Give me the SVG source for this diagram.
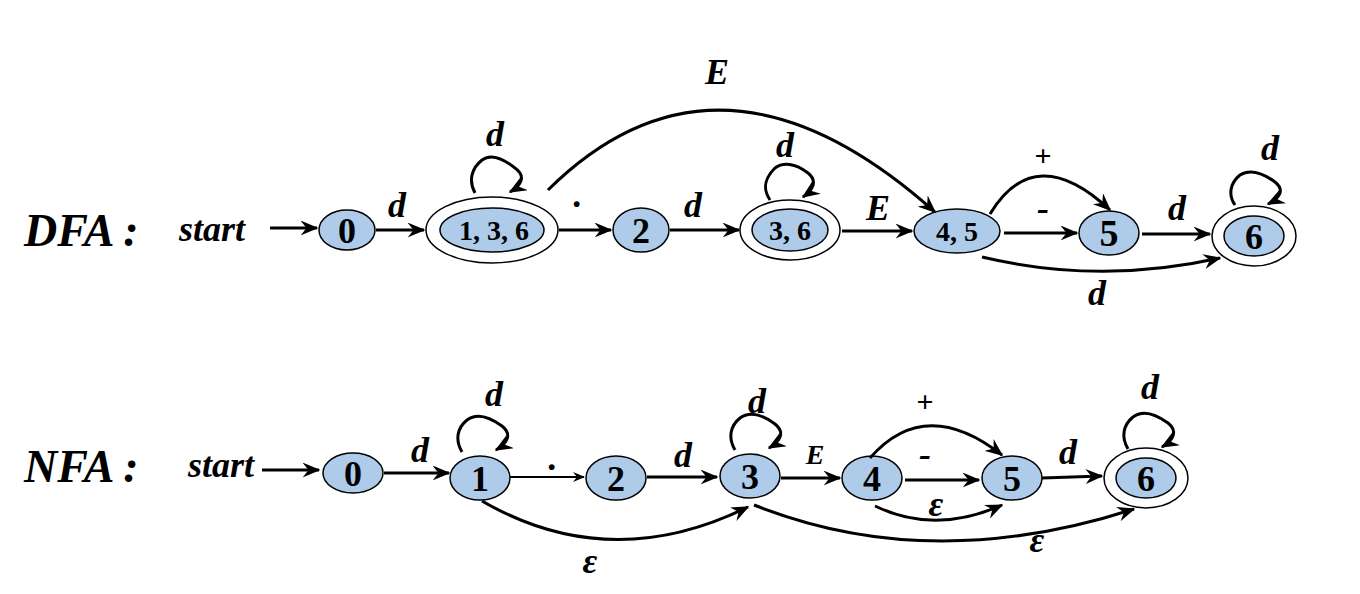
<svg xmlns="http://www.w3.org/2000/svg" width="1360" height="594" viewBox="0 0 1360 594">
<style>
.n{fill:#aecbea;stroke:#000;stroke-width:1.5}
.o{fill:#fff;stroke:#000;stroke-width:1.5}
.e{fill:none;stroke:#000;stroke-width:3;marker-end:url(#ah)}
.t{font-family:"Liberation Serif",serif;font-weight:bold;text-anchor:middle}
.l{font-family:"Liberation Serif",serif;font-weight:bold;font-style:italic;text-anchor:middle;font-size:36px}
.h{font-family:"Liberation Serif",serif;font-weight:bold;font-style:italic;font-size:46px}
</style>
<defs><marker id="ah" viewBox="0 0 12 10" refX="11" refY="5" markerWidth="6" markerHeight="5" markerUnits="strokeWidth" orient="auto"><path d="M0,0 L12,5 L0,10 L4,5 z"/></marker></defs>
<rect width="1360" height="594" fill="#fff"/>
<text class="h" x="24" y="246">DFA :</text>
<text class="l" x="212" y="241" style="font-size:36px">start</text>
<text class="h" x="24" y="482">NFA :</text>
<text class="l" x="221" y="477" style="font-size:36px">start</text>
<g id="d0"><ellipse class="n" cx="347" cy="230" rx="28" ry="20"/><text class="t" x="347" y="243" font-size="36">0</text></g>
<g id="d136"><ellipse class="o" cx="492" cy="230" rx="66" ry="33"/><ellipse class="n" cx="492" cy="230" rx="52" ry="22"/><text class="t" x="494" y="240" font-size="28">1, 3, 6</text></g>
<g id="d2"><ellipse class="n" cx="641" cy="230" rx="28" ry="22"/><text class="t" x="641" y="243" font-size="36">2</text></g>
<g id="d36"><ellipse class="o" cx="790" cy="230" rx="50" ry="30"/><ellipse class="n" cx="790" cy="230" rx="38" ry="21"/><text class="t" x="790" y="240" font-size="28">3, 6</text></g>
<g id="d45"><ellipse class="n" cx="957" cy="231" rx="43" ry="22"/><text class="t" x="957" y="241" font-size="28">4, 5</text></g>
<g id="d5"><ellipse class="n" cx="1109" cy="233" rx="30" ry="22"/><text class="t" x="1109" y="246" font-size="38">5</text></g>
<g id="d6"><ellipse class="o" cx="1254" cy="236" rx="42" ry="30"/><ellipse class="n" cx="1254" cy="236" rx="30" ry="20"/><text class="t" x="1254" y="249" font-size="36">6</text></g>
<g id="n0"><ellipse class="n" cx="353" cy="473" rx="30" ry="20"/><text class="t" x="353" y="486" font-size="36">0</text></g>
<g id="n1"><ellipse class="n" cx="480" cy="478" rx="30" ry="22"/><text class="t" x="480" y="491" font-size="36">1</text></g>
<g id="n2"><ellipse class="n" cx="616" cy="478" rx="30" ry="22"/><text class="t" x="616" y="491" font-size="36">2</text></g>
<g id="n3"><ellipse class="n" cx="750" cy="476" rx="30" ry="22"/><text class="t" x="750" y="489" font-size="36">3</text></g>
<g id="n4"><ellipse class="n" cx="872" cy="478" rx="30" ry="22"/><text class="t" x="872" y="491" font-size="36">4</text></g>
<g id="n5"><ellipse class="n" cx="1012" cy="478" rx="30" ry="22"/><text class="t" x="1012" y="491" font-size="36">5</text></g>
<g id="n6"><ellipse class="o" cx="1146" cy="478" rx="42" ry="30"/><ellipse class="n" cx="1146" cy="478" rx="30" ry="20"/><text class="t" x="1146" y="491" font-size="36">6</text></g>
<g id="edges">
<path class="e" d="M270,228 L317,228"/>
<path class="e" d="M376,230 L424,230"/>
<path class="e" d="M559,230 L611,230"/>
<path class="e" d="M670,230 L739,230"/>
<path class="e" d="M842,231 L912,231"/>
<path class="e" d="M1004,233 L1077,233"/>
<path class="e" d="M1142,234 L1210,234"/>
<path class="e" d="M990,214 Q1035,140 1110,210"/>
<path class="e" d="M982,257 Q1100,285 1220,258"/>
<path class="e" d="M548,190 Q720,20 935,212"/>
<path class="e" d="M475,193 C468,180 472,168 482,160 C490,154 500,156 515,168 C526,176 522,185 510,192"/>
<path class="e" d="M770,200 C762,188 765,178 775,168 C783,162 795,163 808,173 C818,181 813,190 803,197"/>
<path class="e" d="M1235,205 C1228,195 1230,183 1240,175 C1248,170 1260,171 1275,182 C1285,190 1280,198 1268,204"/>
<path class="e" d="M262,470 L319,470"/>
<path class="e" d="M384,473 L449,473"/>
<path class="e" d="M510,477 L584,477" style="stroke-width:2"/>
<path class="e" d="M647,477 L717,477"/>
<path class="e" d="M781,478 L840,478"/>
<path class="e" d="M905,480 L979,480"/>
<path class="e" d="M1042,478 L1102,476"/>
<path class="e" d="M870,458 Q925,395 1002,455"/>
<path class="e" d="M875,506 Q935,535 1002,505"/>
<path class="e" d="M482,501 Q610,575 748,507"/>
<path class="e" d="M754,505 Q930,575 1134,509"/>
<path class="e" d="M462,452 C455,440 457,428 467,420 C475,414 487,415 502,426 C512,434 508,443 496,450"/>
<path class="e" d="M735,450 C728,438 730,426 740,418 C748,412 760,413 775,424 C785,432 781,441 769,448"/>
<path class="e" d="M1128,449 C1121,437 1123,425 1133,417 C1141,411 1153,412 1168,423 C1178,431 1174,440 1162,447"/>
</g>
<g id="labels">
<text class="l" x="397" y="217">d</text>
<text class="l" x="578" y="207">.</text>
<text class="l" x="693" y="217">d</text>
<text class="l" x="878" y="220">E</text>
<text class="l" x="1043" y="220">-</text>
<text class="l" x="1177" y="220">d</text>
<text class="l" x="1043" y="166" style="font-style:normal;font-size:30px">+</text>
<text class="l" x="1097" y="305">d</text>
<text class="l" x="717" y="84">E</text>
<text class="l" x="495" y="146">d</text>
<text class="l" x="785" y="157">d</text>
<text class="l" x="1270" y="160">d</text>
<text class="l" x="420" y="462">d</text>
<text class="l" x="553" y="470">.</text>
<text class="l" x="683" y="467">d</text>
<text class="l" x="815" y="464" style="font-size:28px">E</text>
<text class="l" x="925" y="466">-</text>
<text class="l" x="1068" y="464">d</text>
<text class="l" x="925" y="412" style="font-style:normal;font-size:30px">+</text>
<text class="l" x="936" y="516">ε</text>
<text class="l" x="590" y="573">ε</text>
<text class="l" x="1037" y="552">ε</text>
<text class="l" x="494" y="406">d</text>
<text class="l" x="757" y="413">d</text>
<text class="l" x="1150" y="399">d</text>
</g>
</svg>
